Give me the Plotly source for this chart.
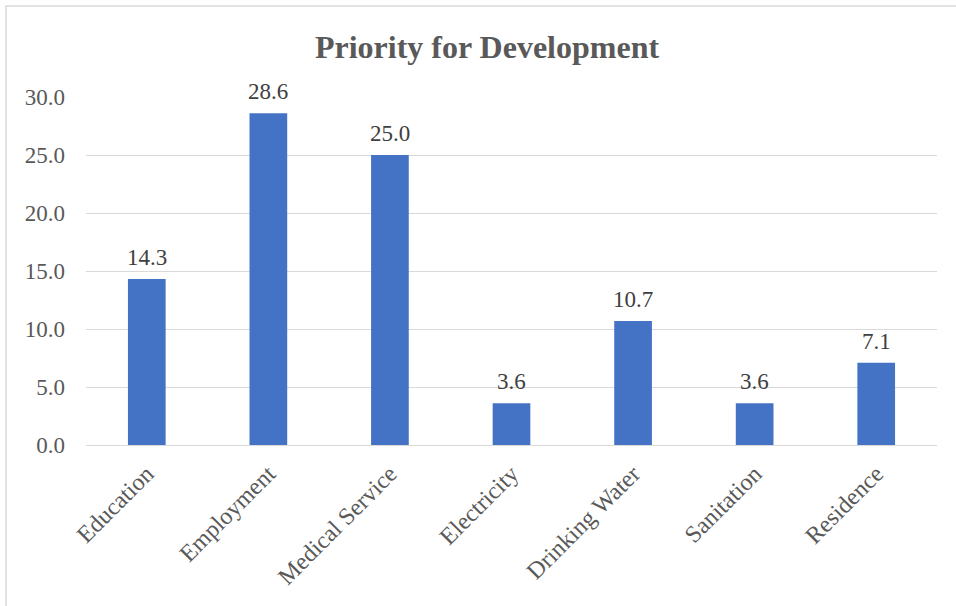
import plotly.graph_objects as go

categories = ["Education", "Employment", "Medical Service", "Electricity",
              "Drinking Water", "Sanitation", "Residence"]
values = [14.3, 28.6, 25.0, 3.6, 10.7, 3.6, 7.1]
y_ticks = [0, 5, 10, 15, 20, 25, 30]
y_tick_labels = ["0.0", "5.0", "10.0", "15.0", "20.0", "25.0", "30.0"]

FONT = "Liberation Serif, Times New Roman, serif"

fig = go.Figure(
    go.Bar(
        x=categories,
        y=values,
        marker=dict(color="#4472C4", line=dict(width=0)),
        hoverinfo="x+y",
    )
)

# value labels above each bar
for cat, v in zip(categories, values):
    fig.add_annotation(
        x=cat, y=v, text=f"{v:.1f}",
        showarrow=False, yanchor="bottom", yshift=7,
        font=dict(family=FONT, size=23, color="#404040"),
    )

fig.update_layout(
    width=956,
    height=606,
    margin=dict(l=86, r=19, t=97, b=161),
    paper_bgcolor="white",
    plot_bgcolor="white",
    bargap=0.69,
    showlegend=False,
    title=dict(
        text="<b>Priority for Development</b>",
        x=487 / 956,
        xanchor="center",
        y=1 - 47 / 606,
        yanchor="middle",
        font=dict(family=FONT, size=32, color="#595959"),
    ),
    font=dict(family=FONT, color="#595959"),
    xaxis=dict(
        tickangle=-45,
        tickfont=dict(family=FONT, size=24, color="#595959"),
        showgrid=False,
        showline=False,
        ticks="",
        ticklabelstandoff=9,
    ),
    yaxis=dict(
        range=[0, 30],
        tickvals=y_ticks,
        ticktext=y_tick_labels,
        tickfont=dict(family=FONT, size=23, color="#595959"),
        showgrid=True,
        gridcolor="#D9D9D9",
        gridwidth=1.3,
        zeroline=True,
        zerolinecolor="#D9D9D9",
        zerolinewidth=1.3,
        showline=False,
        ticks="",
        ticklabelstandoff=20,
    ),
    shapes=[
        dict(
            type="rect", xref="paper", yref="paper",
            x0=-80 / 851, x1=1 + 40 / 851,
            y0=-200 / 348, y1=1 + 91 / 348,
            line=dict(color="#D9D9D9", width=1.5),
            fillcolor="rgba(0,0,0,0)",
            layer="below",
        )
    ],
)

fig.write_html("out.html")
